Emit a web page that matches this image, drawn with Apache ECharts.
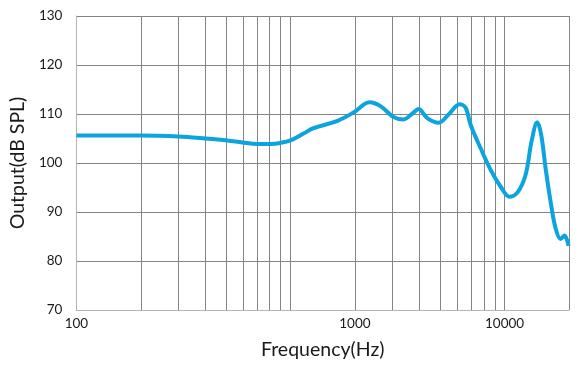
<!DOCTYPE html>
<html>
<head>
<meta charset="utf-8">
<script src="https://cdn.jsdelivr.net/npm/echarts@6/dist/echarts.min.js"></script>
<style>
html,body{margin:0;padding:0;background:#fff;}
#chart{width:584px;height:375px;}
</style>
</head>
<body>
<div id="chart"></div>
<script>
// Frequency (Hz) and output (dB SPL)
const freqs = [100, 199, 300, 401, 508, 597, 701, 806, 898, 1000, 1150, 1281, 1658, 1970, 2340, 2634, 3029, 3373, 3717, 3963, 4368, 4918, 5477, 6162, 6577, 6939, 7730, 8610, 9580, 10550, 11500, 12540, 13370, 14210, 14840, 15550, 16410, 17310, 18270, 19070, 19910];
const spl =   [105.6, 105.6, 105.4, 105.0, 104.6, 104.2, 103.9, 103.9, 104.1, 104.6, 106.0, 107.1, 108.6, 110.3, 112.4, 111.6, 109.4, 108.9, 110.1, 111.0, 109.1, 108.2, 109.9, 112.0, 111.3, 107.8, 103.0, 98.6, 95.2, 93.1, 94.0, 97.6, 104.4, 108.3, 105.7, 98.9, 92.1, 86.7, 84.5, 85.2, 83.1];

// Axis ticks
const gridFreqs = [100, 200, 300, 400, 500, 600, 700, 800, 900, 1000, 2000, 3000, 4000, 5000, 6000, 7000, 8000, 9000, 10000, 20000];
const labelFreqs = [100, 2000, 10000];
const labelTexts = ['100', '1000', '10000'];
const yMin = 70, yMax = 130, yStep = 10;

const xMin = Math.log10(100);
const xMax = Math.log10(20000);

const chart = echarts.init(document.getElementById('chart'), null, {renderer: 'canvas'});
const font = 'Lato, "Noto Sans", sans-serif';

chart.setOption({
  animation: false,
  backgroundColor: '#ffffff',
  grid: {left: 76, right: 15, top: 16, bottom: 65, containLabel: false},
  xAxis: {
    type: 'value',
    min: xMin,
    max: xMax,
    name: 'Frequency(Hz)',
    nameLocation: 'middle',
    nameGap: 30,
    nameTextStyle: {fontFamily: font, fontSize: 19.5, color: '#1a1a1a'},
    axisLine: {show: true, lineStyle: {color: '#b4b4b4', width: 1}},
    axisTick: {show: false, customValues: gridFreqs.map(f => Math.log10(f))},
    splitLine: {show: true, lineStyle: {color: '#858585', width: 1}},
    axisLabel: {
      customValues: labelFreqs.map(f => Math.log10(f)),
      margin: 7,
      fontFamily: font,
      fontSize: 13.5,
      color: '#1a1a1a',
      formatter: function (v) {
        let best = 0, bd = Infinity;
        labelFreqs.forEach((f, i) => { const d = Math.abs(Math.log10(f) - v); if (d < bd) { bd = d; best = i; } });
        return labelTexts[best];
      }
    }
  },
  yAxis: {
    type: 'value',
    min: yMin,
    max: yMax,
    interval: yStep,
    name: 'Output(dB SPL)',
    nameLocation: 'middle',
    nameGap: 48,
    nameTextStyle: {fontFamily: font, fontSize: 19.5, color: '#1a1a1a'},
    axisLine: {show: true, lineStyle: {color: '#b4b4b4', width: 1}},
    axisTick: {show: false},
    splitLine: {show: true, lineStyle: {color: '#858585', width: 1}},
    axisLabel: {margin: 14, fontFamily: font, fontSize: 13.5, color: '#1a1a1a'}
  },
  series: [{
    type: 'line',
    data: freqs.map((f, i) => [Math.log10(f), spl[i]]),
    smooth: 0.35,
    showSymbol: false,
    symbol: 'none',
    lineStyle: {color: '#0ba4de', width: 4},
    clip: true
  }]
});
</script>
</body>
</html>
